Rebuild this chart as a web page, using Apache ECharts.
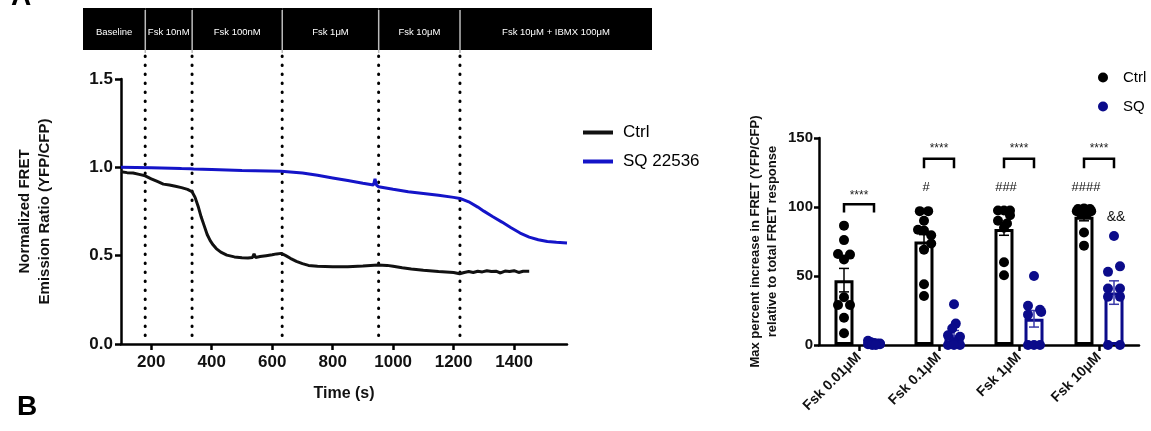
<!DOCTYPE html>
<html>
<head>
<meta charset="utf-8">
<script src="https://cdn.jsdelivr.net/npm/echarts@6/dist/echarts.min.js"></script>
<style>
  html, body { margin: 0; padding: 0; background: #fff; }
  #chart { width: 1151px; height: 431px; }
</style>
</head>
<body>
<div id="chart"></div>
<script>
// ---- panel A: FRET time course ----
const phaseNames = ['Baseline', 'Fsk 10nM', 'Fsk 100nM', 'Fsk 1μM', 'Fsk 10μM', 'Fsk 10μM + IBMX 100μM'];
const phaseEdges = [-26, 180, 335, 633, 952, 1221, 1856];
const stimTimes = [180, 335, 633, 952, 1221];

const ctrlTime = [100, 120, 140, 160, 180, 200, 220, 240, 260, 280, 300, 320, 335, 345, 355, 365, 375, 385, 395, 405,
  415, 430, 450, 475, 500, 520, 535, 540, 545, 560, 580, 600, 615, 630, 645, 660, 680, 700, 720, 750,
  800, 850, 900, 950, 980, 1000, 1030, 1060, 1100, 1150, 1200, 1220, 1235, 1250, 1265, 1280, 1295, 1310, 1325, 1340,
  1355, 1370, 1385, 1400, 1415, 1430, 1450];
const ctrlRatio = [0.975, 0.97, 0.968, 0.96, 0.952, 0.935, 0.92, 0.905, 0.9, 0.893, 0.885, 0.875, 0.862, 0.83, 0.78, 0.72, 0.67, 0.62, 0.585, 0.56,
  0.54, 0.52, 0.503, 0.493, 0.488, 0.487, 0.49, 0.51, 0.49, 0.495, 0.5, 0.505, 0.51, 0.513, 0.5, 0.485, 0.468, 0.455, 0.445, 0.44,
  0.437, 0.437, 0.441, 0.447, 0.445, 0.44, 0.432, 0.425, 0.418, 0.41, 0.405, 0.398, 0.405, 0.41, 0.405, 0.412, 0.408, 0.415, 0.41, 0.412,
  0.402, 0.413, 0.41, 0.415, 0.405, 0.412, 0.412];

const sqTime = [100, 200, 300, 330, 335, 340, 400, 500, 630, 700, 750, 800, 850, 900, 935, 940, 945, 952, 1000, 1050,
  1100, 1150, 1200, 1221, 1250, 1280, 1300, 1330, 1360, 1390, 1420, 1450, 1480, 1510, 1540, 1575];
const sqRatio = [1.0, 0.997, 0.993, 0.992, 0.998, 0.99, 0.988, 0.982, 0.978, 0.968, 0.955, 0.94, 0.925, 0.91, 0.9, 0.935, 0.9, 0.89, 0.876, 0.862,
  0.852, 0.842, 0.83, 0.824, 0.805, 0.775, 0.752, 0.72, 0.69, 0.658, 0.628, 0.605, 0.59, 0.58, 0.576, 0.572];

const timeTicks = [200, 400, 600, 800, 1000, 1200, 1400];

// ---- panel: max percent increase ----
const doseLabels = ['Fsk 0.01μM', 'Fsk 0.1μM', 'Fsk 1μM', 'Fsk 10μM'];
const ctrlMean = [47, 75, 84, 93];
const ctrlSem = [8.5, 5, 4.5, 3];
const sqMean = [1, 7, 19, 38];
const sqSem = [0.4, 3.5, 6, 8.5];
// [value, horizontal jitter]
const ctrlPoints = [
  [[86.5, 0], [76, 0], [66, -1], [62, 0], [65.5, 1], [34.6, 0], [29, -1], [29, 1], [19.8, 0], [8.5, 0]],
  [[97, -0.7], [97, 0.7], [90, 0], [83.5, -1], [83, 0], [79.5, 1.2], [73.5, 1.2], [69, 0], [44, 0], [35.5, 0]],
  [[97.5, -1], [97.5, 0], [97.5, 1], [94, 1], [90, -1], [88, 0.5], [85, 0], [60, 0], [50.5, 0]],
  [[98.5, -1], [99, 0], [98.5, 1], [97, -1.2], [97, 1.2], [96, 0], [95, -0.5], [95, 0.5], [81.5, 0], [72, 0]]
];
const sqPoints = [
  [[3, -1], [2, -0.5], [1.5, 0], [1, 0.5], [1, 1], [0.5, -1], [0.5, 1], [0, -0.3], [0, 0.3]],
  [[29.5, 0], [15.5, 0.3], [12, -0.3], [7, -1], [6, 1], [2, 0], [0, -1], [0, 1], [0, 0]],
  [[50, 0], [28.5, -1], [25.5, 1], [24, 1.2], [22, -1], [0, -1], [0, 0], [0, 1]],
  [[79, 0], [57, 1], [53, -1], [41, -1], [41, 1], [35, -1], [35, 1], [0, -1], [0, 1]]
];
const bracketTop = [102, 135, 135, 135];
const bracketLeg = [96, 128, 128, 128];
const starY = [108.5, 142.5, 142.5, 142.5];
const hashText = ['', '#', '###', '####'];
const hashY = [0, 114, 114, 114];
const ampText = ['', '', '', '&&'];
const ampY = [0, 0, 0, 93];

const FONT = 'Liberation Sans, Arial, sans-serif';
const NAVY = '#0b0b8a';
const BLUE = '#1414c8';
const OFF = 0.1875;   // half distance between paired bars, in category units
const JIT = 0.075;

let chartDom = document.getElementById('chart');
let myChart = echarts.init(chartDom);

function toScatter(groups, side) {
  let out = [];
  groups.forEach(function (g, i) {
    g.forEach(function (p) { out.push([i + side * OFF + p[1] * JIT, p[0]]); });
  });
  return out;
}

function errData(mean, sem, side) {
  return mean.map(function (m, i) { return [i + side * OFF, m, sem[i]]; });
}

function errRender(color) {
  return function (params, api) {
    let x = api.value(0), m = api.value(1), s = api.value(2);
    let lo = api.coord([x, m - s]);
    let hi = api.coord([x, m + s]);
    let st = { stroke: color, lineWidth: 1.5 };
    return {
      type: 'group',
      children: [
        { type: 'line', shape: { x1: lo[0], y1: lo[1], x2: hi[0], y2: hi[1] }, style: st },
        { type: 'line', shape: { x1: lo[0] - 5, y1: lo[1], x2: lo[0] + 5, y2: lo[1] }, style: st },
        { type: 'line', shape: { x1: hi[0] - 5, y1: hi[1], x2: hi[0] + 5, y2: hi[1] }, style: st }
      ]
    };
  };
}

let option = {
  backgroundColor: '#fff',
  animation: false,
  textStyle: { fontFamily: FONT },
  title: [
    { text: 'A', left: 6, top: -22, textStyle: { fontSize: 28, fontWeight: 'bold', color: '#000', fontFamily: FONT } },
    { text: 'B', left: 12, top: 388, textStyle: { fontSize: 28, fontWeight: 'bold', color: '#000', fontFamily: FONT } }
  ],
  legend: [
    {
      data: [
        { name: 'Ctrl', icon: 'rect', itemStyle: { color: '#111' } },
        { name: 'SQ 22536', icon: 'rect', itemStyle: { color: BLUE } }
      ],
      orient: 'vertical',
      left: 578, top: 118,
      itemWidth: 30, itemHeight: 4, itemGap: 10,
      textStyle: { fontSize: 17, color: '#000', lineHeight: 19, padding: [0, 0, 0, 5], fontFamily: FONT }
    },
    {
      data: [
        { name: 'Ctrl', icon: 'circle', itemStyle: { color: '#000' } },
        { name: 'SQ', icon: 'circle', itemStyle: { color: NAVY } }
      ],
      orient: 'vertical',
      left: 1093, top: 64,
      itemWidth: 10, itemHeight: 10, itemGap: 12,
      textStyle: { fontSize: 15, color: '#000', lineHeight: 17, padding: [0, 0, 0, 10], fontFamily: FONT }
    }
  ],
  grid: [
    { left: 83, right: 499, top: 8, height: 42 },
    { left: 121, right: 584, top: 79, bottom: 87 },
    { left: 121, right: 584, top: 56, bottom: 87 },
    { left: 819, right: 12, top: 138, bottom: 86 }
  ],
  xAxis: [
    { gridIndex: 0, type: 'value', min: -26, max: 1856, show: false },
    {
      gridIndex: 1, type: 'value', min: 100, max: 1575,
      name: 'Time (s)', nameLocation: 'middle', nameGap: 42,
      nameTextStyle: { fontSize: 16, fontWeight: 'bold', color: '#111' },
      axisLine: { show: true, onZero: false, lineStyle: { color: '#000', width: 2.5 } },
      axisTick: { show: true, length: 6, lineStyle: { width: 2.5, color: '#000' }, customValues: timeTicks },
      axisLabel: { fontSize: 17, fontWeight: 'bold', color: '#111', margin: 10, customValues: timeTicks, formatter: function (v) { return String(v); } },
      splitLine: { show: false }
    },
    { gridIndex: 2, type: 'value', min: 100, max: 1575, show: false },
    {
      gridIndex: 3, type: 'category', data: doseLabels,
      axisLine: { show: true, onZero: false, lineStyle: { color: '#000', width: 2.5 } },
      axisTick: { show: true, alignWithLabel: true, length: 6, lineStyle: { width: 2.5, color: '#000' } },
      axisLabel: { rotate: 45, fontSize: 14, fontWeight: 'bold', color: '#111', margin: 10, interval: 0 }
    },
    { gridIndex: 3, type: 'value', min: -0.5, max: 3.5, show: false }
  ],
  yAxis: [
    { gridIndex: 0, type: 'value', min: 0, max: 1, show: false },
    {
      gridIndex: 1, type: 'value', min: 0, max: 1.5, interval: 0.5,
      name: 'Normalized FRET\nEmission Ratio (YFP/CFP)', nameLocation: 'middle', nameGap: 66,
      nameTextStyle: { fontSize: 15, fontWeight: 'bold', color: '#111', lineHeight: 20 },
      axisLine: { show: true, onZero: false, lineStyle: { color: '#000', width: 2.5 } },
      axisTick: { show: true, length: 6, lineStyle: { width: 2.5, color: '#000' } },
      axisLabel: { fontSize: 17, fontWeight: 'bold', color: '#111', margin: 8, formatter: function (v) { return v.toFixed(1); } },
      splitLine: { show: false }
    },
    { gridIndex: 2, type: 'value', min: 0, max: 1, show: false },
    {
      gridIndex: 3, type: 'value', min: 0, max: 150, interval: 50,
      name: 'Max percent increase in FRET (YFP/CFP)\nrelative to total FRET response', nameLocation: 'middle', nameGap: 38,
      nameTextStyle: { fontSize: 13, fontWeight: 'bold', color: '#111', lineHeight: 17 },
      axisLine: { show: true, onZero: false, lineStyle: { color: '#000', width: 2.5 } },
      axisTick: { show: true, length: 5, lineStyle: { width: 2.5, color: '#000' } },
      axisLabel: { fontSize: 15, fontWeight: 'bold', color: '#111', margin: 6 },
      splitLine: { show: false }
    }
  ],
  series: [
    {
      name: 'Ctrl', type: 'line', xAxisIndex: 1, yAxisIndex: 1, symbol: 'none',
      lineStyle: { color: '#111', width: 3 }, itemStyle: { color: '#111' },
      data: ctrlTime.map(function (t, i) { return [t, ctrlRatio[i]]; }), z: 3
    },
    {
      name: 'SQ 22536', type: 'line', xAxisIndex: 1, yAxisIndex: 1, symbol: 'none',
      lineStyle: { color: BLUE, width: 3 }, itemStyle: { color: BLUE },
      data: sqTime.map(function (t, i) { return [t, sqRatio[i]]; }), z: 3
    },
    {
      // header bar with treatment phases
      type: 'custom', xAxisIndex: 0, yAxisIndex: 0, silent: true,
      data: phaseNames.map(function (n, i) { return [phaseEdges[i], phaseEdges[i + 1]]; }),
      renderItem: function (params, api) {
        let a = api.coord([api.value(0), 1]);
        let b = api.coord([api.value(1), 0]);
        let kids = [
          { type: 'rect', shape: { x: a[0], y: a[1], width: b[0] - a[0], height: b[1] - a[1] }, style: { fill: '#000' } },
          {
            type: 'text', x: (a[0] + b[0]) / 2, y: (a[1] + b[1]) / 2 + 3,
            style: { text: phaseNames[params.dataIndex], fill: '#fff', fontSize: 9.5, fontFamily: FONT, align: 'center', verticalAlign: 'middle' }
          }
        ];
        if (params.dataIndex > 0) {
          kids.push({ type: 'line', shape: { x1: a[0], y1: a[1] + 2, x2: a[0], y2: b[1] + 3 }, style: { stroke: '#bbb', lineWidth: 1.5 } });
        }
        return { type: 'group', children: kids };
      }
    },
    {
      // dotted stimulus lines
      type: 'custom', xAxisIndex: 2, yAxisIndex: 2, silent: true, z: 1,
      data: stimTimes.map(function (t) { return [t]; }),
      renderItem: function (params, api) {
        let top = api.coord([api.value(0), 1]);
        let bot = api.coord([api.value(0), 0]);
        return {
          type: 'line', shape: { x1: top[0], y1: top[1], x2: bot[0], y2: bot[1] - 4 },
          style: { stroke: '#000', lineWidth: 3, lineDash: [0.5, 8.5], lineCap: 'round' }
        };
      }
    },
    {
      name: 'Ctrl mean', type: 'bar', xAxisIndex: 3, yAxisIndex: 3, data: ctrlMean,
      barWidth: 19, barGap: '58%',
      itemStyle: { color: '#fff', borderColor: '#000', borderWidth: 3 }
    },
    {
      name: 'SQ mean', type: 'bar', xAxisIndex: 3, yAxisIndex: 3, data: sqMean,
      barWidth: 19, barGap: '58%',
      itemStyle: { color: '#fff', borderColor: NAVY, borderWidth: 3 }
    },
    {
      type: 'custom', xAxisIndex: 4, yAxisIndex: 3, silent: true, z: 3,
      data: errData(ctrlMean, ctrlSem, -1), renderItem: errRender('#000')
    },
    {
      type: 'custom', xAxisIndex: 4, yAxisIndex: 3, silent: true, z: 3,
      data: errData(sqMean, sqSem, 1), renderItem: errRender('#3a3aa8')
    },
    {
      name: 'Ctrl', type: 'scatter', xAxisIndex: 4, yAxisIndex: 3, symbolSize: 10, z: 4,
      itemStyle: { color: '#000', opacity: 1 }, data: toScatter(ctrlPoints, -1)
    },
    {
      name: 'SQ', type: 'scatter', xAxisIndex: 4, yAxisIndex: 3, symbolSize: 10, z: 4,
      itemStyle: { color: NAVY, opacity: 1 }, data: toScatter(sqPoints, 1)
    },
    {
      // significance brackets and annotations
      type: 'custom', xAxisIndex: 4, yAxisIndex: 3, silent: true, z: 5,
      data: doseLabels.map(function (d, i) { return [i]; }),
      renderItem: function (params, api) {
        let i = params.dataIndex;
        let x = api.value(0);
        let l0 = api.coord([x - OFF, bracketLeg[i]]);
        let l1 = api.coord([x - OFF, bracketTop[i]]);
        let r1 = api.coord([x + OFF, bracketTop[i]]);
        let r0 = api.coord([x + OFF, bracketLeg[i]]);
        let s = api.coord([x, starY[i]]);
        let kids = [
          { type: 'polyline', shape: { points: [l0, l1, r1, r0] }, style: { stroke: '#000', lineWidth: 2.5, fill: null } },
          { type: 'text', x: s[0], y: s[1], style: { text: '****', fill: '#222', fontSize: 12, fontFamily: FONT, align: 'center', verticalAlign: 'middle' } }
        ];
        if (hashText[i]) {
          let h = api.coord([x - OFF, hashY[i]]);
          kids.push({ type: 'text', x: h[0] + 2, y: h[1], style: { text: hashText[i], fill: '#111', fontSize: 13, fontFamily: FONT, align: 'center', verticalAlign: 'middle' } });
        }
        if (ampText[i]) {
          let m = api.coord([x + OFF, ampY[i]]);
          kids.push({ type: 'text', x: m[0] + 2, y: m[1], style: { text: ampText[i], fill: '#111', fontSize: 14, fontFamily: FONT, align: 'center', verticalAlign: 'middle' } });
        }
        return { type: 'group', children: kids };
      }
    }
  ]
};

myChart.setOption(option);
</script>
</body>
</html>
